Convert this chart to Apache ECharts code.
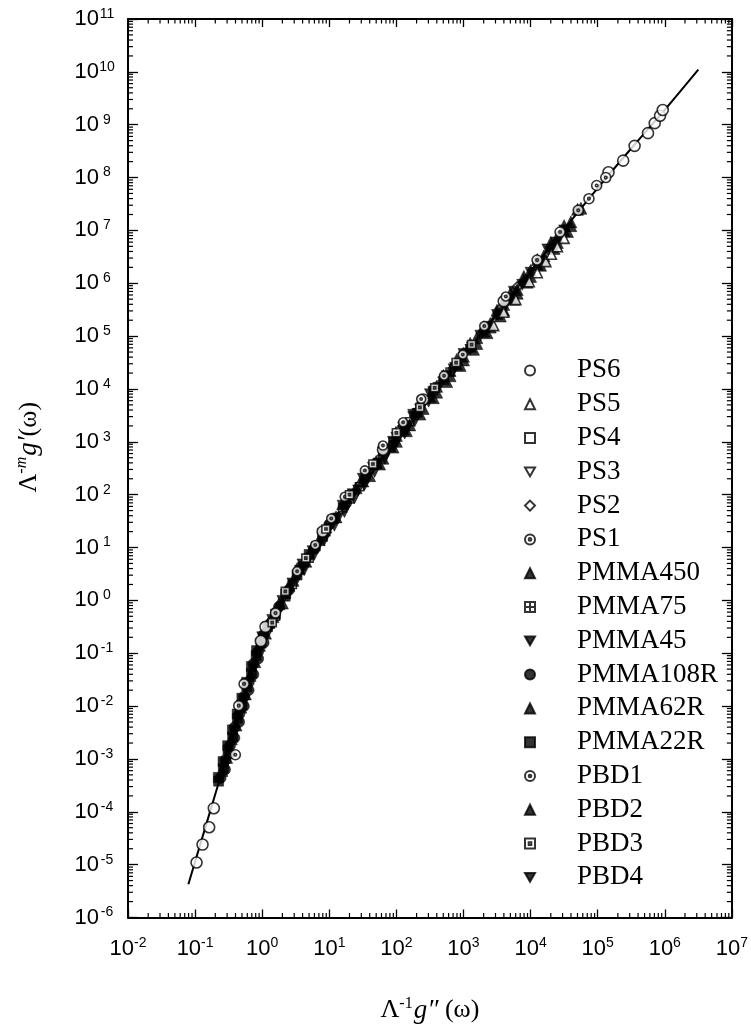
<!DOCTYPE html>
<html><head><meta charset="utf-8">
<script src="https://cdn.jsdelivr.net/npm/echarts@6/dist/echarts.min.js"></script>
<style>html,body{margin:0;padding:0;background:#fff}#c{width:751px;height:1029px}</style>
</head><body><div id="c"></div>
<script>
// ---------- data ----------
const seriesNames = ['PS6','PS5','PS4','PS3','PS2','PS1','PMMA450','PMMA75','PMMA45','PMMA108R','PMMA62R','PMMA22R','PBD1','PBD2','PBD3','PBD4'];
// tick labels are powers of ten: exponents shown on the axes
const xTickExponents = [-2,-1,0,1,2,3,4,5,6,7];
const yTickExponents = [-6,-5,-4,-3,-2,-1,0,1,2,3,4,5,6,7,8,9,10,11];
const minorMultipliers = [2,3,4,5,6,7,8,9];

const masterCurve = [[0.0794,4.27e-6],[0.158,7.94e-5],[0.316,1.51e-3],[0.562,1.78e-2],[0.794,7.59e-2],[1.0,0.178],[1.41,0.437],[2.0,1.0],[3.16,2.82],[5.62,8.91],[10,26.3],[17.8,72.4],[31.6,191],[56.2,501],[100,1260],[316,7590],[1000,4.37e4],[3160,2.63e5],[1e4,1.66e6],[3.16e4,1.05e7],[1e5,6.31e7],[3.16e5,3.55e8],[1e6,1.91e9],[3.16e6,1.1e10]];

const PS6 = [[0.105,1.1e-5],[0.129,2.4e-5],[0.162,5.1e-5],[0.19,1.17e-4],[0.955,0.17],[1.12,0.316],[7.94,20],[63.1,708],[251,6310],[3980,4.57e5],[1.45e5,1.26e8],[2.4e5,2.09e8],[3.55e5,3.98e8],[5.62e5,6.92e8],[7.08e5,1.07e9],[8.51e5,1.48e9],[9.33e5,1.9e9]];
const PS5 = [[2820,1.58e5],[3980,2.82e5],[6030,4.9e5],[9550,1.07e6],[1.26e4,1.58e6],[1.69e4,2.57e6],[2.04e4,3.55e6],[2.51e4,4.9e6],[3.16e4,7.08e6]];
const PS4 = [[1.58,0.5],[2.82,2.0],[5.01,6.31],[8.91,20],[15.8,56.2],[28.2,141],[50.1,380],[89.1,1000],[158,2400]];
const PS3 = [[12.6,35.5],[22.4,100],[39.8,251],[70.8,676],[126,1660],[224,4170],[398,9550],[708,2.4e4],[1260,5.62e4]];
const PS2 = [[126,2000],[251,5620],[501,1.66e4],[1000,4.79e4],[2000,1.26e5],[3550,3.31e5],[6310,8.51e5]];
const PS1 = [[3.31,3.55],[6.17,11.2],[10.7,35.5],[17,91.2],[33.9,288],[63.1,851],[126,2340],[234,6460],[513,1.78e4],[977,4.47e4],[2040,1.55e5],[4270,5.62e5]];
const PMMA450 = [[31.6,182],[50.1,427],[79.4,832],[126,1740],[200,3800],[316,7240],[501,1.58e4],[794,2.95e4],[1260,6.46e4],[2000,1.23e5],[3160,2.69e5],[5010,5.25e5],[7940,1.17e6],[1.26e4,2.29e6],[2.0e4,5.13e6],[3.16e4,1e7],
  [39.8,229],[63.1,490],[100,1020],[158,2090],[251,4270],[398,8710],[631,1.78e4],[1000,3.55e4],[1580,7.24e4],[2510,1.48e5],[3980,3.09e5],[6310,6.46e5],[1e4,1.35e6],[1.58e4,2.82e6],[2.51e4,5.89e6],[3.98e4,1.23e7],
  [56.2,380],[89.1,794],[141,1620],[224,3350],[355,6840],[562,1.38e4],[891,2.79e4],[1410,5.62e4],[2240,1.16e5],[3550,2.4e5],[5620,5.01e5],[8910,1.05e6],[1.41e4,2.19e6],[2.24e4,4.57e6],[3.55e4,9.55e6]];
const PMMA75 = [[2.24,1.17],[3.55,3.8],[6.31,10.5],[11.2,33.9],[20,83.2],[35.5,245],[63.1,575],[112,1580],[200,3550],[355,9330],[631,2.09e4]];
const PMMA45 = [[1.0,0.2],[1.41,0.427],[2.0,0.977],[2.82,2.09],[3.98,4.79],[5.62,8.51],[7.94,17.8],[11.2,30.9],[15.8,61.7],[22.4,102],[31.6,200],[44.7,324],[63.1,631],[89.1,1000],[126,1860],[178,2950],[251,5500],[355,8710],
  [1.2,0.234],[1.7,0.562],[2.4,1.23],[3.39,2.69],[4.79,5.37],[6.76,10.2],[9.55,20],[13.5,35.5],[19.1,67.6],[26.9,120],[38,214],[53.7,389],[75.9,676],[107,1170],[151,2000],[214,3390],[302,5750],
  [4.22,3.72],[5.96,7.24],[8.41,13.8],[11.9,25.7],[16.8,46.8],[23.7,85.1],[33.5,151],[47.3,269],[66.8,479],[94.4,832],[133,1430],[188,2450]];
const PMMA108R = [[0.24,4.37e-4],[0.282,9.55e-4],[0.331,1.78e-3],[0.389,3.98e-3],[0.457,7.08e-3],[0.537,1.51e-2],[0.631,2.82e-2],[0.741,6.31e-2],[0.871,0.107],[1.05,0.224],[1.32,0.363],[1.78,0.759],[2.51,1.58],[3.8,4.37],[6.03,9.55],[10,27.5],[17.8,69.2],
  [0.279,6.31e-4],[0.328,1.26e-3],[0.385,2.51e-3],[0.453,5.01e-3],[0.533,1e-2],[0.627,2.0e-2],[0.738,3.98e-2],[0.871,7.94e-2],[1.05,0.158]];
const PMMA62R = [[0.251,6.03e-4],[0.295,1.07e-3],[0.347,2.4e-3],[0.407,4.37e-3],[0.479,9.55e-3],[0.562,1.7e-2],[0.661,3.8e-2],[0.776,6.92e-2],[0.912,0.141],[1.12,0.24],[1.45,0.49],[2.0,0.891],[2.88,2.4],[4.47,5.5],[7.08,14.1],[12.6,38],[25.1,135],[50.1,398],[100,1320],
  [1.26,0.38],[1.78,0.871],[2.51,1.93],[3.55,4.07],[5.62,10.2],[8.91,24.5],[15.8,67.6],[31.6,219],[63.1,692]];
const PMMA22R = [[0.224,3.8e-4],[0.263,6.61e-4],[0.309,1.48e-3],[0.363,2.63e-3],[0.427,5.89e-3],[0.501,1.05e-2],[0.589,2.34e-2],[0.692,4.17e-2],[0.813,9.12e-2],[0.955,0.155],[1.2,0.316],[1.58,0.55],[2.24,1.32],[3.31,3.02],[5.01,7.41],[7.94,16.2],
  [0.222,4.47e-4],[0.261,8.91e-4],[0.306,1.78e-3],[0.36,3.55e-3],[0.424,7.08e-3],[0.498,1.41e-2],[0.586,2.82e-2],[0.69,5.62e-2],[0.824,0.112]];
const PBD1 = [[0.398,1.2e-3],[0.447,1.02e-2],[0.537,2.63e-2],[1.58,0.575],[1.25e4,2.75e6],[2.75e4,9.33e6],[5.13e4,2.4e7],[7.41e4,3.98e7],[9.66e4,7.08e7],[1.32e5,1e8]];
const PBD2 = [[398,1.12e4],[631,2.24e4],[1000,4.17e4],[1580,9.33e4],[2510,1.74e5],[3980,3.98e5],[6310,7.59e5],[1e4,1.74e6],[1.58e4,3.31e6],[2.51e4,7.59e6],[3.98e4,1.45e7],[5.62e4,2.63e7],
  [501,1.8e4],[794,3.63e4],[1260,7.33e4],[2000,1.5e5],[3160,3.09e5],[5010,6.46e5],[7940,1.35e6],[1.26e4,2.82e6],[2.0e4,5.89e6],[3.16e4,1.23e7],[5.01e4,2.51e7]];
const PBD3 = [[1.41,0.38],[2.21,1.48],[4.47,6.31],[8.91,22.4],[20,100],[44.7,380],[100,1480],[224,4470],[372,1.05e4],[776,3.16e4],[1320,6.92e4]];
const PBD4 = [[100,1200],[178,3240],[316,7940],[562,1.74e4],[1000,4.57e4],[1780,1.02e5],[3160,2.51e5],[5620,6.92e5],[1e4,1.58e6],[1.78e4,4.37e6],[3.16e4,1e7],
  [133,1760],[237,4320],[422,1.05e4],[750,2.51e4],[1330,6.1e4],[2370,1.5e5],[4220,3.72e5],[7500,9.33e5],[1.33e4,2.34e6],[2.37e4,5.89e6]];

// ---------- styles ----------
const P_CIRCDOT = 'path://M0,-10A10,10,0,1,1,0,10A10,10,0,1,1,0,-10ZM0,-2.6A2.6,2.6,0,1,1,0,2.6A2.6,2.6,0,1,1,0,-2.6Z';
const P_SQPLUS = 'path://M-10,-10L10,-10L10,10L-10,10ZM-10,0L10,0M0,-10L0,10';
const P_SQDOT = 'path://M-10,-10L10,-10L10,10L-10,10ZM-2.6,-2.6L2.6,-2.6L2.6,2.6L-2.6,2.6Z';
const P_DOWNTRI = 'path://M-10,-8.66L10,-8.66L0,8.66Z';
const OPEN = {color:'#fff', borderColor:'#000', borderWidth:1.6};
const FILL = {color:'#000', borderColor:'#000', borderWidth:0.6};
// layer: 0 = under the filled marks, 1 = filled, 2 = on top
const seriesStyle = {
  PS6:{symbol:'circle', size:11, st:OPEN, layer:2},
  PS5:{symbol:'triangle', size:10, st:OPEN, layer:2},
  PS4:{symbol:'rect', size:8, st:OPEN, layer:0},
  PS3:{symbol:P_DOWNTRI, size:9, st:OPEN, layer:0},
  PS2:{symbol:'diamond', size:10, st:OPEN, layer:0},
  PS1:{symbol:P_CIRCDOT, size:9, st:OPEN, layer:2},
  PMMA450:{symbol:'triangle', size:12, st:FILL, layer:1},
  PMMA75:{symbol:P_SQPLUS, size:8, st:OPEN, layer:0},
  PMMA45:{symbol:P_DOWNTRI, size:11, st:FILL, layer:1},
  PMMA108R:{symbol:'circle', size:11, st:FILL, layer:1},
  PMMA62R:{symbol:'triangle', size:12, st:FILL, layer:1},
  PMMA22R:{symbol:'rect', size:10, st:FILL, layer:1},
  PBD1:{symbol:P_CIRCDOT, size:10, st:OPEN, layer:2},
  PBD2:{symbol:'triangle', size:12, st:FILL, layer:1},
  PBD3:{symbol:P_SQDOT, size:8, st:OPEN, layer:2},
  PBD4:{symbol:P_DOWNTRI, size:11, st:FILL, layer:1}
};
const legendSymbolSize = 10;
const dataByName = {PS6,PS5,PS4,PS3,PS2,PS1,PMMA450,PMMA75,PMMA45,PMMA108R,PMMA62R,PMMA22R,PBD1,PBD2,PBD3,PBD4};

const SANS = 'Liberation Sans, Arial, sans-serif';
const SERIF = 'Liberation Serif, Times New Roman, serif';
const chart = echarts.init(document.getElementById('c'), null, {renderer:'canvas'});

const series = [];
series.push({type:'line', data:masterCurve, showSymbol:false, symbol:'none', smooth:0.3,
  lineStyle:{color:'#000', width:2}, z:1, silent:true, xAxisIndex:0, yAxisIndex:0});
[0,1,2].forEach(layer => seriesNames.filter(n => seriesStyle[n].layer === layer).forEach(n => {
  const s = seriesStyle[n];
  series.push({type:'scatter', name:n, data:dataByName[n], symbol:s.symbol, symbolSize:s.size,
    itemStyle:Object.assign({}, s.st), z:2, xAxisIndex:0, yAxisIndex:0});
}));

const lineSt = {show:true, onZero:false, lineStyle:{color:'#000', width:2}};
const hidden = {axisLine:{show:false, onZero:false}, axisTick:{show:false}, axisLabel:{show:false}, splitLine:{show:false}};
const expLabel = v => '{b|10}{s|' + v + '}';
const xExtent = [xTickExponents[0], xTickExponents[xTickExponents.length-1]];
const yExtent = [yTickExponents[0], yTickExponents[yTickExponents.length-1]];

chart.setOption({
  animation:false,
  backgroundColor:'#fff',
  grid:{left:128, right:16, top:19, bottom:105.5, containLabel:false},
  legend:{data:seriesNames, orient:'vertical', left:519, top:348.5, itemWidth:legendSymbolSize, itemHeight:legendSymbolSize, itemGap:0,
    selectedMode:false, symbolKeepAspect:true,
    textStyle:{fontFamily:SERIF, fontSize:27, color:'#000', lineHeight:33.8, padding:[0,0,0,37]}},
  xAxis:[
    Object.assign({type:'log', logBase:10, min:Math.pow(10,xExtent[0]), max:Math.pow(10,xExtent[1]), position:'bottom'}, hidden),
    {type:'value', min:xExtent[0], max:xExtent[1], interval:1, position:'bottom', splitLine:{show:false}, axisLine:lineSt,
      axisTick:{show:true, inside:true, length:8, lineStyle:{color:'#000', width:1.3}},
      axisLabel:{show:true, margin:19, color:'#000', fontFamily:SANS, formatter:expLabel,
        rich:{b:{fontSize:22, fontFamily:SANS, color:'#000'}, s:{fontSize:14, fontFamily:SANS, color:'#000', padding:[0,0,10,0]}}},
      name:'{L|\u039B}{s|-1}{g|g\u2033}{L| (\u03C9)}', nameLocation:'middle', nameGap:78,
      nameTextStyle:{color:'#000', rich:{
        L:{fontFamily:SERIF, fontSize:26, color:'#000'},
        s:{fontFamily:SERIF, fontSize:16, color:'#000', padding:[0,1,14,0]},
        g:{fontFamily:SERIF, fontSize:27, fontStyle:'italic', color:'#000'}}}},
    {type:'value', min:xExtent[0], max:xExtent[1], interval:1, position:'top', splitLine:{show:false}, axisLine:lineSt,
      axisTick:{show:true, inside:true, length:8, lineStyle:{color:'#000', width:1.3}}, axisLabel:{show:false}}
  ],
  yAxis:[
    Object.assign({type:'log', logBase:10, min:Math.pow(10,yExtent[0]), max:Math.pow(10,yExtent[1]), position:'left'}, hidden),
    {type:'value', min:yExtent[0], max:yExtent[1], interval:1, position:'left', splitLine:{show:false}, axisLine:lineSt,
      axisTick:{show:true, inside:true, length:10, lineStyle:{color:'#000', width:1.3}},
      axisLabel:{show:true, margin:13, color:'#000', fontFamily:SANS, formatter:expLabel,
        rich:{b:{fontSize:22, fontFamily:SANS, color:'#000'}, s:{fontSize:14, fontFamily:SANS, color:'#000', width:16, align:'left', padding:[0,0,10,0]}}},
      name:'{L|\u039B}{s|-}{si|m}{g|g\u2032}{L|(\u03C9)}', nameLocation:'middle', nameGap:84, nameRotate:90,
      nameTextStyle:{color:'#000', padding:[0,0,0,42], rich:{
        L:{fontFamily:SERIF, fontSize:26, color:'#000'},
        s:{fontFamily:SERIF, fontSize:16, color:'#000', padding:[0,0,14,0]},
        si:{fontFamily:SERIF, fontSize:16, fontStyle:'italic', color:'#000', padding:[0,1,14,0]},
        g:{fontFamily:SERIF, fontSize:27, fontStyle:'italic', color:'#000'}}}},
    {type:'value', min:yExtent[0], max:yExtent[1], interval:1, position:'right', splitLine:{show:false}, axisLine:lineSt,
      axisTick:{show:true, inside:true, length:10, lineStyle:{color:'#000', width:1.3}}, axisLabel:{show:false}}
  ],
  series:series
});

// minor (log) ticks: positions through the log axes' own scales
const gfx = [];
const tickStyle = () => ({stroke:'#000', lineWidth:1.2});
const xL = chart.convertToPixel({xAxisIndex:0}, Math.pow(10, xExtent[0]));
const xR = chart.convertToPixel({xAxisIndex:0}, Math.pow(10, xExtent[1]));
const yB = chart.convertToPixel({yAxisIndex:0}, Math.pow(10, yExtent[0]));
const yT = chart.convertToPixel({yAxisIndex:0}, Math.pow(10, yExtent[1]));
xTickExponents.slice(0, -1).forEach(e => minorMultipliers.forEach(m => {
  const px = chart.convertToPixel({xAxisIndex:0}, m * Math.pow(10, e));
  gfx.push({type:'line', silent:true, z:50, shape:{x1:px, y1:yB, x2:px, y2:yB-4.5}, style:tickStyle()});
  gfx.push({type:'line', silent:true, z:50, shape:{x1:px, y1:yT, x2:px, y2:yT+4.5}, style:tickStyle()});
}));
yTickExponents.slice(0, -1).forEach(e => minorMultipliers.forEach(m => {
  const py = chart.convertToPixel({yAxisIndex:0}, m * Math.pow(10, e));
  gfx.push({type:'line', silent:true, z:50, shape:{x1:xL, y1:py, x2:xL+5, y2:py}, style:tickStyle()});
  gfx.push({type:'line', silent:true, z:50, shape:{x1:xR, y1:py, x2:xR-5, y2:py}, style:tickStyle()});
}));
chart.setOption({graphic:{elements:gfx}});
</script></body></html>
